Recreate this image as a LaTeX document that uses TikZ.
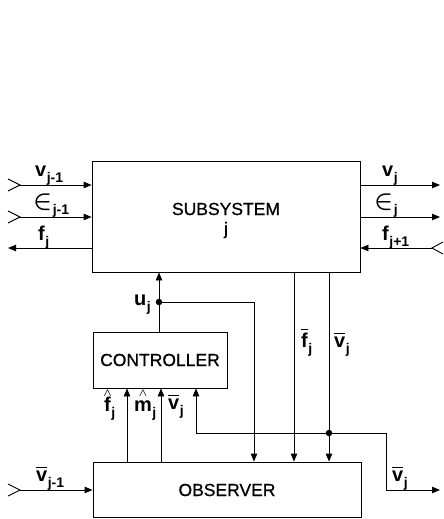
\documentclass[tikz,border=0pt]{standalone}
\usepackage{fontspec}
\usepackage{amsmath}
\setmainfont{Liberation Sans}
\newfontfamily\boxfont[FakeBold=0.8]{Liberation Sans}
\usetikzlibrary{arrows.meta,calc}
\newcommand\lab[2]{#1\kern0.5pt\raisebox{-0.3em}{\fontsize{14}{14}\selectfont\bfseries #2}}
\newcommand\ovl[1]{$\overline{\mbox{\bfseries #1}}$}
\newcommand\hatl[1]{\hbox{\ooalign{\bfseries #1\cr\hidewidth\raisebox{0.72em}{\fontsize{11}{11}\selectfont$\boldsymbol{\wedge}$}\hidewidth\cr}}}
\newcommand\epsl{\scalebox{1.2}{$\boldsymbol{\in}$}}
\begin{document}
\begin{tikzpicture}[x=1pt,y=-1pt,
  box/.style={draw,line width=0.9pt,inner sep=0pt},
  big/.style={font=\fontsize{17.5}{18}\selectfont\boxfont,inner sep=0pt},
  lbl/.style={font=\fontsize{20}{20}\selectfont\bfseries,inner sep=0pt,anchor=base west},
  arr/.style={line width=0.9pt,-{Triangle[length=8pt,width=6.5pt]}},
  chev/.style={line width=0.9pt},
  dot/.style={circle,fill,inner sep=0pt,minimum size=6.5pt}]
\useasboundingbox (0,0) rectangle (444,519);
% boxes
\node[box,minimum width=268pt,minimum height=111pt] (S) at (226,216.5) {};
\node[big] (St) at (226,209) {SUBSYSTEM};
\node[big] (Sj) at (226,230) {j};
\node[box,minimum width=134pt,minimum height=56pt] (C) at (160,360) {};
\node[big] (Ct) at (160,360) {CONTROLLER};
\node[box,minimum width=268pt,minimum height=55pt] (O) at (227,489.5) {};
\node[big] (Ot) at (227,490) {OBSERVER};
% left side coordinates
\coordinate (a1) at (20,185);
\coordinate (a2) at (20,217);
\coordinate (a3) at (8,248);
\coordinate (a4) at (20,490);
\foreach \c in {a1,a2,a4}{
  \draw[chev] ($(\c)+(-12,-6)$) -- (\c) -- ($(\c)+(-12,6)$);
}
\draw[arr] (a1) -- (a1 -| S.west);
\draw[arr] (a2) -- (a2 -| S.west);
\draw[arr] (a3 -| S.west) -- (a3);
\draw[arr] (a4) -- (a4 -| O.west);
% right side
\coordinate (b1) at (440,185);
\coordinate (b2) at (440,217);
\coordinate (b3) at (432,248);
\draw[arr] (b1 -| S.east) -- (b1);
\draw[arr] (b2 -| S.east) -- (b2);
\draw[chev] ($(b3)+(11,-6)$) -- (b3) -- ($(b3)+(11,6)$);
\draw[arr] (b3) -- (b3 -| S.east);
% u_j
\coordinate (uc) at (159,332);
\node[dot] (ud) at (159,302) {};
\draw[arr] (uc) -- (uc |- S.south);
\coordinate (uk) at (254,302);
\draw[arr] (ud.center) -- (uk) -- (uk |- O.north);
% fbar, vbar
\coordinate (fb) at (294,272);
\coordinate (vb) at (329,272);
\draw[arr] (fb) -- (fb |- O.north);
\draw[arr] (vb) -- (vb |- O.north);
\node[dot] (vd) at (329,433) {};
\coordinate (vl) at (196,433);
\draw[arr] (vd.center) -- (vl) -- (vl |- C.south);
\coordinate (vr1) at (386,433);
\coordinate (vr2) at (386,490);
\coordinate (vr3) at (440,490);
\draw[arr] (vd.center) -- (vr1) -- (vr2) -- (vr3);
% observer to controller
\coordinate (fh) at (127,462);
\coordinate (mh) at (161,462);
\draw[arr] (fh) -- (fh |- C.south);
\draw[arr] (mh) -- (mh |- C.south);
% labels
\node[lbl] (l1) at (35,176) {\lab{v}{j-1}};
\node[lbl] (l2) at (33,208) {\lab{\epsl}{j-1}};
\node[lbl] (l3) at (38,240) {\lab{f}{j}};
\node[lbl] (r1) at (382,176) {\lab{v}{j}};
\node[lbl] (r2) at (374,208) {\lab{\epsl}{j}};
\node[lbl] (r3) at (382,240) {\lab{f}{j+1}};
\node[lbl] (lu) at (134,305) {\lab{u}{j}};
\node[lbl] (lfh) at (104,411) {\lab{\hatl{f}}{j}};
\node[lbl] (lmh) at (134,411) {\lab{\hatl{m}}{j}};
\node[lbl] (lvc) at (168,409) {\lab{\ovl{v}}{j}};
\node[lbl] (lfb) at (301,347) {\lab{\ovl{f}}{j}};
\node[lbl] (lvb) at (334,347) {\lab{\ovl{v}}{j}};
\node[lbl] (lvr) at (392,481) {\lab{\ovl{v}}{j}};
\node[lbl] (lvo) at (36,481) {\lab{\ovl{v}}{j-1}};
\end{tikzpicture}
\end{document}
